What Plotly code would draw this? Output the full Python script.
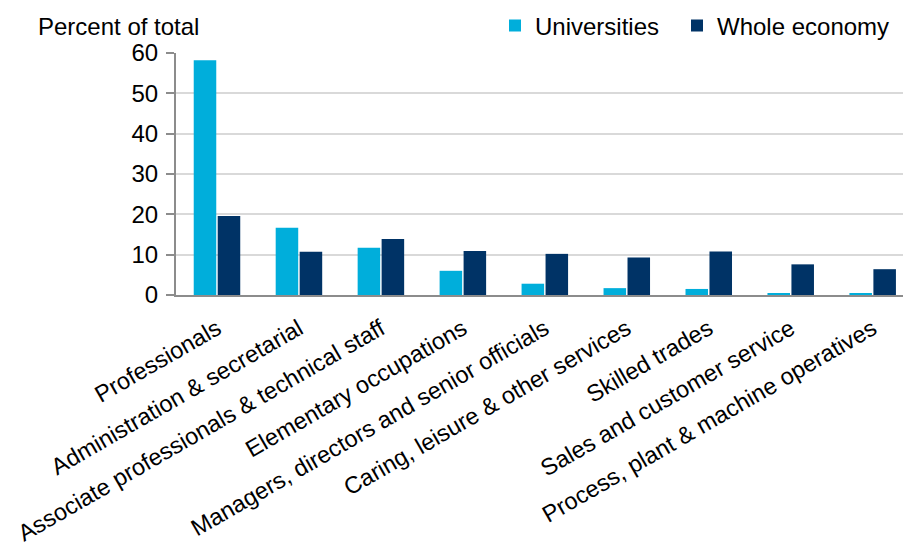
import plotly.graph_objects as go

# Share of employment by occupation group (percent of total)
categories = [
    "Professionals",
    "Administration & secretarial",
    "Associate professionals & technical staff",
    "Elementary occupations",
    "Managers, directors and senior officials",
    "Caring, leisure & other services",
    "Skilled trades",
    "Sales and customer service",
    "Process, plant & machine operatives",
]
universities = [58.2, 16.7, 11.7, 6.0, 2.8, 1.7, 1.5, 0.5, 0.3]
whole_economy = [19.6, 10.7, 13.9, 10.9, 10.2, 9.3, 10.8, 7.6, 6.4]
y_ticks = [0, 10, 20, 30, 40, 50, 60]

FONT = "Liberation Sans, Arial, sans-serif"
LIGHT_BLUE = "#00AEDB"
NAVY = "#003366"

fig = go.Figure()
fig.add_trace(go.Bar(name="Universities", x=categories, y=universities,
                     marker=dict(color=LIGHT_BLUE, line=dict(width=0)),
                     legend="legend"))
fig.add_trace(go.Bar(name="Whole economy", x=categories, y=whole_economy,
                     marker=dict(color=NAVY, line=dict(width=0)),
                     legend="legend2"))

W, H = 903, 546
L, R, T, B = 176, 0, 53, 251
plot_w = W - L - R
plot_h = H - T - B

legend_y = 1 + (T - 26) / plot_h
legend_common = dict(
    orientation="h",
    xanchor="left",
    y=legend_y, yanchor="middle",
    font=dict(family=FONT, size=24, color="#000000"),
    bgcolor="rgba(0,0,0,0)",
    borderwidth=0,
)

fig.update_layout(
    width=W, height=H,
    margin=dict(l=L, r=R, t=T, b=B, pad=0),
    paper_bgcolor="white", plot_bgcolor="white",
    barmode="group", bargap=0.415, bargroupgap=0.06,
    font=dict(family=FONT, size=24, color="#000000"),
    showlegend=True,
    legend=dict(x=(495 - L) / plot_w, **legend_common),
    legend2=dict(x=(677 - L) / plot_w, **legend_common),
    xaxis=dict(
        type="category",
        range=[-0.5, 8.37],
        tickangle=-30,
        tickfont=dict(family=FONT, size=23.5, color="#000000"),
        ticklabelstandoff=9,
        showgrid=False,
        showline=True, linecolor="#8C8C8C", linewidth=2,
        ticks="",
        automargin=False,
    ),
    yaxis=dict(
        range=[0, 60],
        tickvals=y_ticks,
        tickfont=dict(family=FONT, size=24, color="#000000"),
        ticklabelstandoff=3,
        showgrid=True, gridcolor="#D9D9D9", gridwidth=1.5,
        showline=True, linecolor="#8C8C8C", linewidth=2,
        ticks="outside", ticklen=8, tickcolor="#8C8C8C", tickwidth=2,
        zeroline=False,
        automargin=False,
    ),
    annotations=[
        dict(
            text="Percent of total",
            xref="paper", yref="paper",
            x=(36 - L) / plot_w, xanchor="left",
            y=1 + (T - 27) / plot_h, yanchor="middle",
            showarrow=False,
            font=dict(family=FONT, size=24, color="#000000"),
        )
    ],
)

fig.write_html("out.html")
